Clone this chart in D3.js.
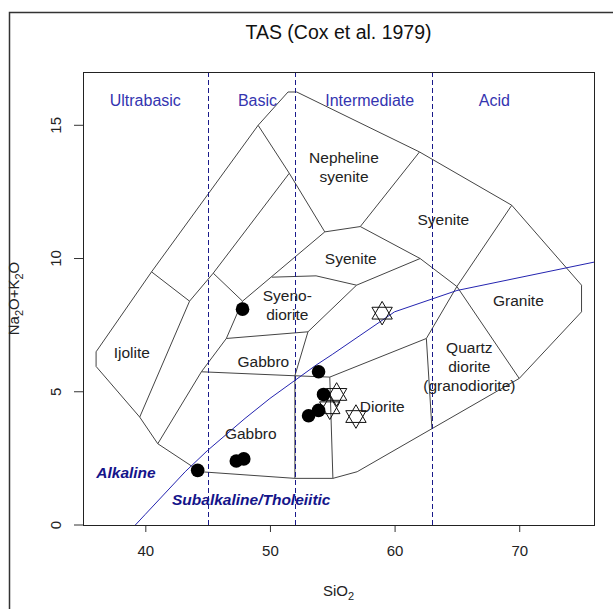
<!DOCTYPE html>
<html>
<head>
<meta charset="utf-8">
<script src="https://cdn.jsdelivr.net/npm/d3@7"></script>
<style>
  body { margin: 0; background: #fff; }
  svg { display: block; font-family: "Liberation Sans", Arial, sans-serif; }
</style>
</head>
<body>
<svg id="chart" width="613" height="609"></svg>
<script>
// axes
var xTicks = [40, 50, 60, 70];
var yTicks = [0, 5, 10, 15];

// silica divisions and their names
var silicaDivides = [45, 52, 63];
var silicaClasses = ["Ultrabasic", "Basic", "Intermediate", "Acid"];
var silicaClassX = [40, 49, 58, 68];

// field boundaries (SiO2, Na2O+K2O)
var outline = [[36.05, 6.5], [36.05, 5.95], [39.55, 4.05], [41, 3.05], [44.4, 2], [52, 1.75],
  [55.05, 1.75], [57, 2], [70, 5.5], [75, 8], [75, 9], [69.4, 12], [62, 14],
  [52.15, 16.25], [51.45, 16.25], [49.05, 15], [40.5, 9.5], [36.05, 6.5]];
var fieldLines = [
  [[40.5, 9.5], [43.55, 8.4]],
  [[43.55, 8.4], [39.55, 4.05]],
  [[43.55, 8.4], [45.45, 9.45], [51.55, 13.2]],
  [[49.05, 15], [51.55, 13.2], [54.4, 11]],
  [[54.4, 11], [57.25, 11.2], [62, 14]],
  [[57.25, 11.2], [62.05, 10]],
  [[45.45, 9.45], [47.8, 8.4]],
  [[47.8, 8.4], [54.4, 11]],
  [[47.8, 8.4], [46.5, 7.0], [44.5, 5.75], [41, 3.05]],
  [[46.5, 7.0], [53.05, 7.25]],
  [[53.05, 7.25], [56.95, 9.0]],
  [[50.15, 9.3], [53.7, 9.35], [56.95, 9.0]],
  [[56.95, 9.0], [62.05, 10]],
  [[62.05, 10], [65, 8.95], [70, 5.5]],
  [[69.4, 12], [65, 8.95], [62.55, 7.0], [63, 3.6]],
  [[62.55, 7.0], [54.8, 5.55]],
  [[54.8, 5.55], [55.05, 1.75]],
  [[44.5, 5.75], [52, 5.6], [54.8, 5.55]],
  [[52, 5.6], [52, 1.75]],
  [[52, 5.6], [53.05, 7.25]]
];

// rock names
var rockNames = [["Nepheline", "syenite"], ["Syenite"], ["Syenite"], ["Granite"],
  ["Quartz", "diorite", "(granodiorite)"], ["Diorite"], ["Gabbro"], ["Gabbro"],
  ["Syeno-", "diorite"], ["Ijolite"]];
var rockX = [55.94, 56.48, 63.91, 69.93, 66.0, 59.01, 48.46, 49.47, 51.39, 38.91];
var rockY = [13.43, 9.99, 11.47, 8.44, 5.93, 4.44, 3.44, 6.13, 8.27, 6.47];

// Irvine & Baragar alkaline / subalkaline divide
var ibSiO2 = [39.2, 40, 43.2, 45, 48, 50, 53.7, 55, 60, 65, 77.4];
var ibAlk = [0, 0.4, 2, 2.8, 4, 4.75, 6, 6.4, 8, 8.8, 10];

// samples
var dotSiO2 = [47.8, 44.2, 47.3, 47.9, 53.9, 54.3, 53.9, 53.1];
var dotAlk = [8.1, 2.05, 2.4, 2.48, 5.75, 4.9, 4.3, 4.1];
var starSiO2 = [59.0, 55.35, 56.9, 54.8];
var starAlk = [7.95, 4.9, 4.07, 4.4];

var svg = d3.select("#chart");
var pLeft = 83, pRight = 594, pTop = 72, pBottom = 525;

var x = d3.scaleLinear().domain([35, 76]).range([pLeft, pRight]);
var y = d3.scaleLinear().domain([0, 17]).range([pBottom, pTop]);

// outer figure frame
svg.append("rect")
  .attr("x", 9.5).attr("y", 12.5)
  .attr("width", 700).attr("height", 700)
  .attr("fill", "none").attr("stroke", "#333").attr("stroke-width", 1.5);

svg.append("clipPath").attr("id", "plotClip")
  .append("rect")
  .attr("x", pLeft).attr("y", pTop)
  .attr("width", pRight - pLeft).attr("height", pBottom - pTop);

var plot = svg.append("g").attr("clip-path", "url(#plotClip)");
var line = d3.line().x(function(d){ return x(d[0]); }).y(function(d){ return y(d[1]); });

// field boundaries
plot.append("path").datum(outline)
  .attr("d", line).attr("fill", "none")
  .attr("stroke", "#444").attr("stroke-width", 1);
plot.selectAll(".field").data(fieldLines).enter().append("path")
  .attr("class", "field")
  .attr("d", line).attr("fill", "none")
  .attr("stroke", "#444").attr("stroke-width", 1);

// silica dividers
plot.selectAll(".divide").data(silicaDivides).enter().append("line")
  .attr("x1", function(d){ return Math.round(x(d)) + 0.5; })
  .attr("x2", function(d){ return Math.round(x(d)) + 0.5; })
  .attr("y1", y(0)).attr("y2", y(17))
  .attr("stroke", "#1a1a8a").attr("stroke-width", 1)
  .attr("stroke-dasharray", "5,3");

// alkaline divide
var ib = ibSiO2.map(function(d, i){ return [d, ibAlk[i]]; });
plot.append("path").datum(ib)
  .attr("d", line).attr("fill", "none")
  .attr("stroke", "#2424b0").attr("stroke-width", 1);

svg.selectAll(".sclass").data(silicaClasses).enter().append("text")
  .attr("x", function(d, i){ return x(silicaClassX[i]); })
  .attr("y", y(15.92))
  .attr("text-anchor", "middle").attr("dominant-baseline", "central")
  .attr("font-size", 16).attr("fill", "#3434b0")
  .text(function(d){ return d; });

// rock labels
rockNames.forEach(function(lines, i){
  lines.forEach(function(t, j){
    svg.append("text")
      .attr("x", x(rockX[i]))
      .attr("y", y(rockY[i]) + (j - (lines.length - 1) / 2) * 19)
      .attr("text-anchor", "middle").attr("dominant-baseline", "central")
      .attr("font-size", 15.5).attr("fill", "#222")
      .text(t);
  });
});

svg.append("text")
  .attr("x", x(38.45)).attr("y", y(1.98))
  .attr("text-anchor", "middle").attr("dominant-baseline", "central")
  .attr("font-size", 15.5).attr("font-weight", "bold").attr("font-style", "italic")
  .attr("fill", "#14148a").text("Alkaline");
svg.append("text")
  .attr("x", x(48.5)).attr("y", y(0.94))
  .attr("text-anchor", "middle").attr("dominant-baseline", "central")
  .attr("font-size", 15.5).attr("font-weight", "bold").attr("font-style", "italic")
  .attr("fill", "#14148a").text("Subalkaline/Tholeiitic");

// samples: stars first, dots on top
var tri = d3.symbol().type(d3.symbolTriangle).size(180);
var stars = svg.selectAll(".star").data(starSiO2).enter().append("g")
  .attr("class", "star")
  .attr("transform", function(d, i){ return "translate(" + x(d) + "," + y(starAlk[i]) + ")"; });
stars.append("path").attr("d", tri).attr("fill", "none").attr("stroke", "#111").attr("stroke-width", 1);
stars.append("path").attr("d", tri).attr("transform", "rotate(180)")
  .attr("fill", "none").attr("stroke", "#111").attr("stroke-width", 1);

svg.selectAll(".dot").data(dotSiO2).enter().append("circle")
  .attr("class", "dot")
  .attr("cx", function(d){ return x(d); })
  .attr("cy", function(d, i){ return y(dotAlk[i]); })
  .attr("r", 6.8).attr("fill", "#000");

// axes
var xAxis = svg.append("g").attr("transform", "translate(0," + pBottom + ")")
  .call(d3.axisBottom(x).tickValues(xTicks).tickSize(7).tickPadding(13));
var yAxis = svg.append("g").attr("transform", "translate(" + pLeft + ",0)")
  .call(d3.axisLeft(y).tickValues(yTicks).tickSize(9));
[xAxis, yAxis].forEach(function(a){
  a.select(".domain").remove();
  a.selectAll("line").attr("stroke", "#333");
  a.selectAll("text").attr("font-size", 15).attr("fill", "#222")
    .attr("font-family", "Liberation Sans, Arial, sans-serif");
});
yAxis.selectAll("text")
  .attr("x", null).attr("dy", null)
  .attr("text-anchor", "middle").attr("dominant-baseline", "central")
  .attr("transform", function(d){ return "translate(-28," + y(d) + ") rotate(-90)"; })
  .attr("y", 0);
yAxis.selectAll(".tick").attr("transform", null);
yAxis.selectAll(".tick line")
  .attr("y1", function(d){ return y(d); }).attr("y2", function(d){ return y(d); });

// plot box
svg.append("rect")
  .attr("x", pLeft + 0.5).attr("y", pTop + 0.5)
  .attr("width", pRight - pLeft).attr("height", pBottom - pTop)
  .attr("fill", "none").attr("stroke", "#222").attr("stroke-width", 1);

// titles
svg.append("text")
  .attr("x", (pLeft + pRight) / 2).attr("y", 39)
  .attr("text-anchor", "middle").attr("font-size", 19.5).attr("fill", "#111")
  .text("TAS (Cox et al. 1979)");

var xl = svg.append("text")
  .attr("x", (pLeft + pRight) / 2).attr("y", 596)
  .attr("text-anchor", "middle").attr("font-size", 15).attr("fill", "#222");
xl.append("tspan").text("SiO");
xl.append("tspan").attr("font-size", 11).attr("dy", 4).text("2");

var yl = svg.append("text")
  .attr("transform", "translate(19," + ((pTop + pBottom) / 2) + ") rotate(-90)")
  .attr("text-anchor", "middle").attr("font-size", 15).attr("fill", "#222");
yl.append("tspan").text("Na");
yl.append("tspan").attr("font-size", 11).attr("dy", 4).text("2");
yl.append("tspan").attr("dy", -4).text("O+K");
yl.append("tspan").attr("font-size", 11).attr("dy", 4).text("2");
yl.append("tspan").attr("dy", -4).text("O");
</script>
</body>
</html>
